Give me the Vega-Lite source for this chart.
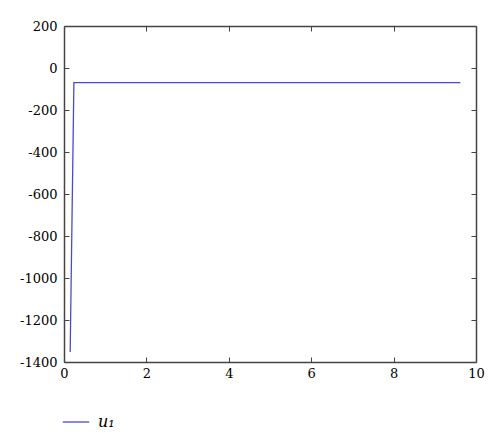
{
  "$schema": "https://vega.github.io/schema/vega-lite/v6.json",
  "width": 412,
  "height": 336,
  "autosize": {"type": "none"},
  "padding": {"left": 64, "top": 26, "right": 24, "bottom": 81},
  "background": "white",
  "config": {
    "view": {"stroke": null},
    "font": "DejaVu Serif",
    "axis": {
      "grid": false,
      "domainColor": "#444444",
      "domainWidth": 1.5,
      "tickColor": "#444444",
      "tickSize": -5,
      "tickWidth": 1,
      "labelFont": "DejaVu Serif",
      "labelFontSize": 13,
      "labelColor": "#000000",
      "labelExpr": "replace(format(datum.value, 'd'), '−', '-')",
      "title": null
    }
  },
  "data": {
    "values": [
      {"t": 0.15, "u": -1352, "series": "u₁"},
      {"t": 0.24, "u": -70, "series": "u₁"},
      {"t": 9.62, "u": -70, "series": "u₁"}
    ]
  },
  "layer": [
    {
      "mark": {"type": "line", "strokeWidth": 1.3, "clip": true},
      "encoding": {
        "x": {
          "field": "t", "type": "quantitative",
          "scale": {"domain": [0, 10], "nice": false, "zero": false},
          "axis": {"values": [0, 2, 4, 6, 8, 10], "labelPadding": 10, "labelFlush": false}
        },
        "y": {
          "field": "u", "type": "quantitative",
          "scale": {"domain": [-1400, 200], "nice": false, "zero": false},
          "axis": {"values": [-1400, -1200, -1000, -800, -600, -400, -200, 0, 200], "labelPadding": 12, "labelFlush": false}
        },
        "color": {
          "field": "series", "type": "nominal",
          "scale": {"range": ["#4a4acf"]},
          "legend": {
            "title": null,
            "orient": "none",
            "legendX": -2,
            "legendY": 382,
            "symbolType": "stroke",
            "symbolSize": 700,
            "symbolStrokeWidth": 1.3,
            "labelFont": "DejaVu Serif",
            "labelFontStyle": "italic",
            "labelFontSize": 16,
            "labelColor": "#000000",
            "labelOffset": 8
          }
        }
      }
    },
    {
      "mark": {"type": "point", "opacity": 0},
      "encoding": {
        "x": {
          "field": "t", "type": "quantitative",
          "scale": {"domain": [0, 10], "nice": false, "zero": false},
          "axis": {"orient": "top", "values": [0, 2, 4, 6, 8, 10], "labels": false}
        },
        "y": {
          "field": "u", "type": "quantitative",
          "scale": {"domain": [-1400, 200], "nice": false, "zero": false},
          "axis": {"orient": "right", "values": [-1400, -1200, -1000, -800, -600, -400, -200, 0, 200], "labels": false}
        }
      }
    }
  ],
  "resolve": {"axis": {"x": "independent", "y": "independent"}}
}
